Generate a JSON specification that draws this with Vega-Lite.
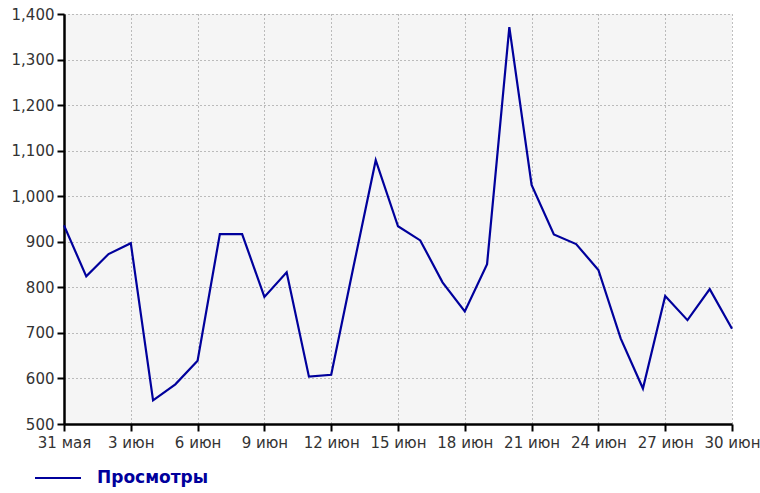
{
  "$schema": "https://vega.github.io/schema/vega-lite/v6.json",
  "width": 668,
  "height": 410,
  "autosize": "none",
  "padding": {"left": 64, "top": 14, "right": 28, "bottom": 69},
  "background": "white",
  "config": {
    "view": {"fill": "#f5f5f5", "stroke": null},
    "font": "DejaVu Sans"
  },
  "data": {
    "values": [
      {"date": "2013-05-31", "views": 936, "series": "Просмотры"},
      {"date": "2013-06-01", "views": 824, "series": "Просмотры"},
      {"date": "2013-06-02", "views": 873, "series": "Просмотры"},
      {"date": "2013-06-03", "views": 897, "series": "Просмотры"},
      {"date": "2013-06-04", "views": 552, "series": "Просмотры"},
      {"date": "2013-06-05", "views": 587, "series": "Просмотры"},
      {"date": "2013-06-06", "views": 639, "series": "Просмотры"},
      {"date": "2013-06-07", "views": 917, "series": "Просмотры"},
      {"date": "2013-06-08", "views": 917, "series": "Просмотры"},
      {"date": "2013-06-09", "views": 779, "series": "Просмотры"},
      {"date": "2013-06-10", "views": 833, "series": "Просмотры"},
      {"date": "2013-06-11", "views": 604, "series": "Просмотры"},
      {"date": "2013-06-12", "views": 608, "series": "Просмотры"},
      {"date": "2013-06-13", "views": 845, "series": "Просмотры"},
      {"date": "2013-06-14", "views": 1079, "series": "Просмотры"},
      {"date": "2013-06-15", "views": 934, "series": "Просмотры"},
      {"date": "2013-06-16", "views": 903, "series": "Просмотры"},
      {"date": "2013-06-17", "views": 811, "series": "Просмотры"},
      {"date": "2013-06-18", "views": 747, "series": "Просмотры"},
      {"date": "2013-06-19", "views": 851, "series": "Просмотры"},
      {"date": "2013-06-20", "views": 1371, "series": "Просмотры"},
      {"date": "2013-06-21", "views": 1025, "series": "Просмотры"},
      {"date": "2013-06-22", "views": 916, "series": "Просмотры"},
      {"date": "2013-06-23", "views": 895, "series": "Просмотры"},
      {"date": "2013-06-24", "views": 838, "series": "Просмотры"},
      {"date": "2013-06-25", "views": 688, "series": "Просмотры"},
      {"date": "2013-06-26", "views": 578, "series": "Просмотры"},
      {"date": "2013-06-27", "views": 781, "series": "Просмотры"},
      {"date": "2013-06-28", "views": 728, "series": "Просмотры"},
      {"date": "2013-06-29", "views": 796, "series": "Просмотры"},
      {"date": "2013-06-30", "views": 709, "series": "Просмотры"}
    ]
  },
  "mark": {"type": "line", "strokeWidth": 2.2, "clip": false},
  "encoding": {
    "x": {
      "field": "date",
      "type": "temporal",
      "scale": {"type": "utc", "domain": [{"year": 2013, "month": 5, "date": 31, "utc": true}, {"year": 2013, "month": 6, "date": 30, "utc": true}], "nice": false},
      "axis": {
        "title": null,
        "values": [
          {"year": 2013, "month": 5, "date": 31, "utc": true},
          {"year": 2013, "month": 6, "date": 3, "utc": true},
          {"year": 2013, "month": 6, "date": 6, "utc": true},
          {"year": 2013, "month": 6, "date": 9, "utc": true},
          {"year": 2013, "month": 6, "date": 12, "utc": true},
          {"year": 2013, "month": 6, "date": 15, "utc": true},
          {"year": 2013, "month": 6, "date": 18, "utc": true},
          {"year": 2013, "month": 6, "date": 21, "utc": true},
          {"year": 2013, "month": 6, "date": 24, "utc": true},
          {"year": 2013, "month": 6, "date": 27, "utc": true},
          {"year": 2013, "month": 6, "date": 30, "utc": true}
        ],
        "labelExpr": "utcdate(datum.value) + ' ' + (utcmonth(datum.value) == 4 ? 'мая' : 'июн')",
        "labelFontSize": 15,
        "labelColor": "#333333",
        "labelPadding": 4,
        "labelFlush": false,
        "labelOverlap": false,
        "tickSize": 7,
        "tickColor": "black",
        "tickWidth": 2,
        "domainColor": "black",
        "domainWidth": 2.5,
        "grid": true,
        "gridColor": "#808080",
        "gridDash": [1, 3],
        "gridWidth": 1
      }
    },
    "y": {
      "field": "views",
      "type": "quantitative",
      "scale": {"domain": [500, 1400], "nice": false, "zero": false},
      "axis": {
        "title": null,
        "values": [500, 600, 700, 800, 900, 1000, 1100, 1200, 1300, 1400],
        "format": ",d",
        "labelFontSize": 15,
        "labelColor": "#333333",
        "labelPadding": 3,
        "labelFlush": false,
        "tickSize": 7,
        "tickColor": "black",
        "tickWidth": 2,
        "domainColor": "black",
        "domainWidth": 2.5,
        "grid": true,
        "gridColor": "#808080",
        "gridDash": [1, 3],
        "gridWidth": 1
      }
    },
    "color": {
      "field": "series",
      "type": "nominal",
      "scale": {"range": ["#00009c"]},
      "legend": {
        "title": null,
        "orient": "none",
        "legendX": -30,
        "legendY": 440,
        "symbolType": "stroke",
        "symbolSize": 2116,
        "symbolStrokeWidth": 2,
        "symbolStrokeColor": "#00009c",
        "labelFontSize": 17,
        "labelFontWeight": "bold",
        "labelColor": "#00009c",
        "labelOffset": 15,
        "padding": 0
      }
    }
  }
}
